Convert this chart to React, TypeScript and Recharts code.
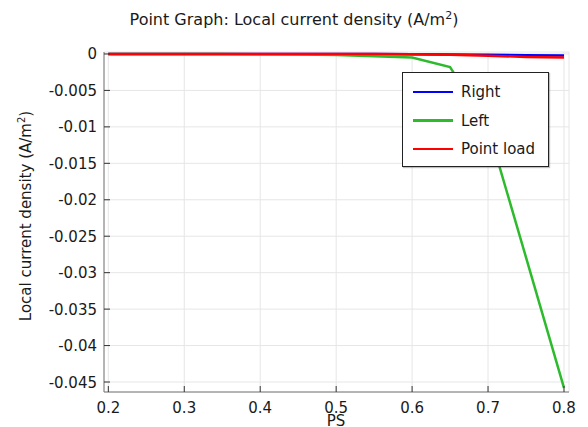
import React from 'react';
import { LineChart, Line, XAxis, YAxis, CartesianGrid } from 'recharts';

const psValues = [0.2, 0.25, 0.3, 0.35, 0.4, 0.45, 0.5, 0.55, 0.6, 0.65, 0.7, 0.75, 0.8];
const rightValues = [0, 0, 0, 0, 0, 0, 0, -0.00001, -0.00003, -0.00006, -0.0001, -0.00016, -0.00022];
const leftValues = [0, 0, 0, 0, -0.00003, -0.00008, -0.00015, -0.0003, -0.0005, -0.0018, -0.0101, -0.0279, -0.0458];
const pointLoadValues = [0, 0, 0, 0, 0, 0, -0.00001, -0.00002, -0.00004, -0.0001, -0.00025, -0.0004, -0.00048];

const xTicks = [0.2, 0.3, 0.4, 0.5, 0.6, 0.7, 0.8];
const yTicks = [0, -0.005, -0.01, -0.015, -0.02, -0.025, -0.03, -0.035, -0.04, -0.045];
const xTickLabels = ['0.2', '0.3', '0.4', '0.5', '0.6', '0.7', '0.8'];
const yTickLabels = ['0', '-0.005', '-0.01', '-0.015', '-0.02', '-0.025', '-0.03', '-0.035', '-0.04', '-0.045'];

const series = [
  { key: 'right', name: 'Right', color: '#0000ff', values: rightValues },
  { key: 'left', name: 'Left', color: '#2dbb2d', values: leftValues },
  { key: 'point', name: 'Point load', color: '#ff0000', values: pointLoadValues },
];

const data = psValues.map((ps, i) => {
  const row: Record<string, number> = { ps };
  series.forEach((s) => {
    row[s.key] = s.values[i];
  });
  return row;
});

const FONT = 'DejaVu Sans, sans-serif';
const TICK_COLOR = '#333';
const TEXT_COLOR = '#1a1a1a';

const labelFor = (v: number, ticks: number[], labels: string[]) => {
  const idx = ticks.findIndex((t) => Math.abs(t - v) < 1e-9);
  return idx >= 0 ? labels[idx] : String(v);
};

const LeftTick = (props: any) => {
  const { x, y, payload } = props;
  return (
    <g>
      <line x1={x + 7} y1={y} x2={x + 13} y2={y} stroke={TICK_COLOR} strokeWidth={1} />
      <text x={x} y={y + 5.5} textAnchor="end" fontSize={15} fontFamily={FONT} fill={TEXT_COLOR}>
        {labelFor(payload.value, yTicks, yTickLabels)}
      </text>
    </g>
  );
};

const RightTick = (props: any) => {
  const { x, y } = props;
  return <line x1={x} y1={y} x2={x - 6} y2={y} stroke={TICK_COLOR} strokeWidth={1} />;
};

const BottomTick = (props: any) => {
  const { x, y, payload } = props;
  return (
    <g>
      <line x1={x} y1={y} x2={x} y2={y - 6} stroke={TICK_COLOR} strokeWidth={1} />
      <text x={x} y={y + 21} textAnchor="middle" fontSize={15} fontFamily={FONT} fill={TEXT_COLOR}>
        {labelFor(payload.value, xTicks, xTickLabels)}
      </text>
    </g>
  );
};

const TopTick = (props: any) => {
  const { x, y } = props;
  return <line x1={x} y1={y} x2={x} y2={y + 6} stroke={TICK_COLOR} strokeWidth={1} />;
};

const xDomain: [number, number] = [0.1943, 0.8066];
const yDomain: [number, number] = [-0.04637, 0.00027];

export default function App() {
  return (
    <div style={{ position: 'absolute', left: 0, top: 0, width: 588, height: 427, background: '#fff', fontFamily: FONT }}>
      <LineChart
        width={588}
        height={427}
        data={data}
        margin={{ top: 52, right: 19, bottom: 0, left: 0 }}
      >
        <CartesianGrid stroke="#e6e6e6" strokeWidth={1} />
        <XAxis
          dataKey="ps"
          type="number"
          domain={xDomain}
          allowDataOverflow
          ticks={xTicks}
          height={35}
          tickSize={0}
          tickMargin={0}
          tickLine={false}
          axisLine={{ stroke: '#777', strokeWidth: 1 }}
          tick={<BottomTick />}
          interval={0}
        />
        <XAxis
          xAxisId="top"
          orientation="top"
          type="number"
          domain={xDomain}
          allowDataOverflow
          ticks={xTicks}
          height={0}
          tickSize={0}
          tickMargin={0}
          tickLine={false}
          axisLine={{ stroke: '#777', strokeWidth: 1 }}
          tick={<TopTick />}
          interval={0}
        />
        <YAxis
          type="number"
          domain={yDomain}
          allowDataOverflow
          ticks={yTicks}
          width={104}
          tickSize={0}
          tickMargin={7}
          tickLine={false}
          axisLine={{ stroke: '#777', strokeWidth: 1 }}
          tick={<LeftTick />}
          interval={0}
        />
        <YAxis
          yAxisId="right"
          orientation="right"
          type="number"
          domain={yDomain}
          allowDataOverflow
          ticks={yTicks}
          width={0}
          tickSize={0}
          tickMargin={0}
          tickLine={false}
          axisLine={{ stroke: '#777', strokeWidth: 1 }}
          tick={<RightTick />}
          interval={0}
        />
        {series.map((s) => (
          <Line
            key={s.key}
            dataKey={s.key}
            name={s.name}
            type="linear"
            stroke={s.color}
            strokeWidth={2.5}
            dot={false}
            activeDot={false}
            isAnimationActive={false}
          />
        ))}
        <text x={31} y={216} transform="rotate(-90 31 216)" textAnchor="middle" fontSize={15} fontFamily={FONT} fill={TEXT_COLOR}>
          Local current density (A/m<tspan fontSize={10} dy={-6}>2</tspan><tspan dy={6}>)</tspan>
        </text>
        <text x={336} y={426} textAnchor="middle" fontSize={15} fontFamily={FONT} fill={TEXT_COLOR}>
          PS
        </text>
        <text x={294} y={25} textAnchor="middle" fontSize={16} fontFamily={FONT} fill={TEXT_COLOR}>
          Point Graph: Local current density (A/m<tspan fontSize={11} dy={-6}>2</tspan><tspan dy={6}>)</tspan>
        </text>
      </LineChart>
      <div
        style={{
          position: 'absolute',
          left: 402,
          top: 72,
          width: 145,
          height: 93,
          border: '1px solid #222',
          background: '#fff',
          boxShadow: '1px 1px 1px rgba(0,0,0,0.25)',
        }}
      >
        {series.map((s, i) => (
          <div
            key={s.key}
            style={{
              position: 'absolute',
              left: 10,
              top: 9 + i * 28.5,
              height: 20,
              display: 'flex',
              alignItems: 'center',
              whiteSpace: 'nowrap',
            }}
          >
            <div style={{ width: 40, height: 2.5, background: s.color }} />
            <span style={{ marginLeft: 8, fontSize: 15, color: TEXT_COLOR, fontFamily: FONT }}>{s.name}</span>
          </div>
        ))}
      </div>
    </div>
  );
}
